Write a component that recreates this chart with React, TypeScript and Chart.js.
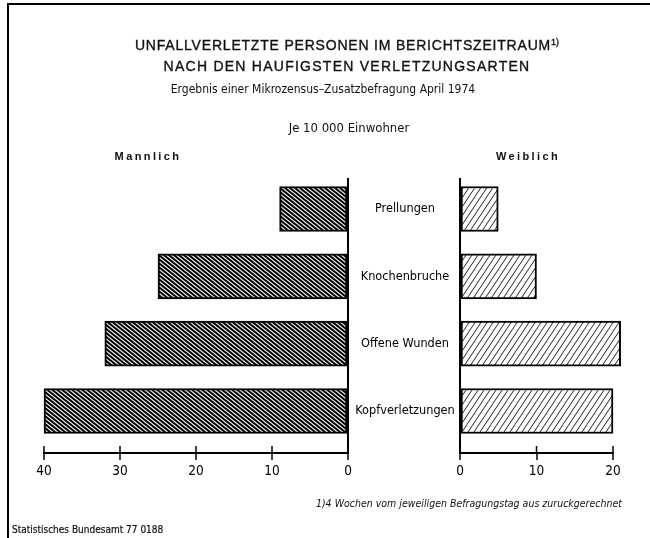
import React, { useEffect, useRef } from "react";
import { Chart, registerables } from "chart.js";

Chart.register(...registerables);

const categories = ["Prellungen", "Knochenbruche", "Offene Wunden", "Kopfverletzungen"];
const maleValues = [9, 25, 32, 40];
const femaleValues = [5, 10, 21, 20];
const maleAxisMax = 40;
const femaleAxisMax = 20;
const tickStep = 10;

const COND = "'Liberation Sans Narrow','DejaVu Sans Condensed','Roboto Condensed','Liberation Sans',sans-serif";
const SANS = "'Liberation Sans',Arial,sans-serif";

function makeHatch(w: number, h: number, dir: "back" | "fwd", lw: number, color: string) {
  const c = document.createElement("canvas");
  c.width = w;
  c.height = h;
  const g = c.getContext("2d")!;
  g.fillStyle = "#fff";
  g.fillRect(0, 0, w, h);
  g.strokeStyle = color;
  g.lineWidth = lw;
  for (let k = -2; k <= 2; k++) {
    g.beginPath();
    if (dir === "back") {
      g.moveTo(k * w - w, -h);
      g.lineTo(k * w + 2 * w, 2 * h);
    } else {
      g.moveTo(k * w - w, 2 * h);
      g.lineTo(k * w + 2 * w, -h);
    }
    g.stroke();
  }
  return g.createPattern(c, "repeat")!;
}

const upTicks = {
  id: "upTicks",
  afterDraw(chart: any) {
    const x = chart.scales.x;
    const ctx = chart.ctx;
    const b = chart.chartArea.bottom;
    ctx.save();
    ctx.strokeStyle = "#000";
    ctx.lineWidth = 1.5;
    x.ticks.forEach((t: any) => {
      const px = x.getPixelForValue(t.value);
      ctx.beginPath();
      ctx.moveTo(px, b - 7);
      ctx.lineTo(px, b);
      ctx.stroke();
    });
    ctx.restore();
  },
};

const catLabels = {
  id: "catLabels",
  afterDraw(chart: any) {
    const y = chart.scales.y;
    const ctx = chart.ctx;
    ctx.save();
    ctx.fillStyle = "#000";
    ctx.font = `12.6px ${COND}`;
    ctx.textAlign = "center";
    ctx.textBaseline = "middle";
    categories.forEach((c, i) => {
      ctx.fillText(c, 405, y.getPixelForValue(i));
    });
    ctx.restore();
  },
};

function baseOptions(reverse: boolean, max: number, padding: any) {
  return {
    indexAxis: "y" as const,
    responsive: false,
    animation: false as const,
    events: [],
    layout: { padding },
    plugins: { legend: { display: false }, tooltip: { enabled: false }, title: { display: false } },
    scales: {
      x: {
        type: "linear" as const,
        reverse,
        min: 0,
        max,
        offset: false,
        afterFit: (s: any) => {
          s.height = 30;
        },
        ticks: {
          stepSize: tickStep,
          color: "#000",
          padding: 3,
          maxRotation: 0,
          font: { size: 13.5, family: COND },
        },
        grid: {
          color: (ctx: any) => (ctx.tick && ctx.tick.value === 0 ? "#000" : "rgba(0,0,0,0)"),
          lineWidth: 2,
          tickColor: "#000",
          tickLength: 7,
          tickWidth: 1.5,
          drawOnChartArea: true,
          offset: false,
        },
        border: { display: true, color: "#000", width: 2 },
      },
      y: {
        type: "linear" as const,
        reverse: true,
        min: -0.46,
        max: 3.624,
        offset: false,
        grid: { offset: false },
        display: false,
      },
    },
  };
}

function Text(props: any) {
  const { x, y, align = "center", size = 12, weight = "normal", italic = false, spacing = 0, family = SANS, stroke = 0, children } = props;
  const tx = align === "center" ? "-50%" : align === "right" ? "-100%" : "0";
  return (
    <div
      style={{
        position: "absolute",
        left: x,
        top: y,
        transform: `translate(${tx}, -50%)`,
        fontFamily: family,
        fontSize: size,
        fontWeight: weight,
        fontStyle: italic ? "italic" : "normal",
        letterSpacing: spacing,
        whiteSpace: "nowrap",
        lineHeight: 1,
        color: "#111",
        WebkitTextStroke: stroke ? `${stroke}px #111` : undefined,
      }}
    >
      {children}
    </div>
  );
}

export default function App() {
  const leftRef = useRef<HTMLCanvasElement>(null);
  const rightRef = useRef<HTMLCanvasElement>(null);

  useEffect(() => {
    const patL = makeHatch(5, 4, "back", 2.1, "#000");
    const patR = makeHatch(6, 9, "fwd", 1, "#222");

    const ds = (vals: number[], pat: any) => ({
      data: vals.map((v, i) => ({ x: v, y: i })) as any,
      backgroundColor: pat,
      borderColor: "#000",
      borderWidth: 2,
      borderSkipped: false,
      barThickness: 45,
      clip: false as any,
    });

    const left = new Chart(leftRef.current!, {
      type: "bar",
      data: { labels: categories, datasets: [ds(maleValues, patL) as any] },
      options: baseOptions(true, maleAxisMax, { left: 44, right: 302, top: 178, bottom: 55 }) as any,
      plugins: [upTicks],
    });

    const right = new Chart(rightRef.current!, {
      type: "bar",
      data: { labels: categories, datasets: [ds(femaleValues, patR) as any] },
      options: baseOptions(false, femaleAxisMax, { left: 460, right: 37, top: 178, bottom: 55 }) as any,
      plugins: [upTicks, catLabels],
    });

    return () => {
      left.destroy();
      right.destroy();
    };
  }, []);

  return (
    <div
      style={{
        position: "fixed",
        left: 0,
        top: 0,
        width: 650,
        height: 538,
        background: "#fff",
        overflow: "hidden",
      }}
    >
      <div
        style={{
          position: "absolute",
          left: 7,
          top: 3,
          width: 660,
          height: 560,
          borderTop: "2px solid #000",
          borderLeft: "2px solid #000",
        }}
      />
      <canvas ref={leftRef} width={650} height={538} style={{ position: "absolute", left: 0, top: 0 }} />
      <canvas ref={rightRef} width={650} height={538} style={{ position: "absolute", left: 0, top: 0 }} />

      <Text x={347} y={45} size={14} spacing={0.8} stroke={0.35}>
        UNFALLVERLETZTE PERSONEN IM BERICHTSZEITRAUM
        <span style={{ fontSize: 9, verticalAlign: "5px", letterSpacing: 0 }}>1)</span>
      </Text>
      <Text x={347} y={66} size={14} spacing={1.25} stroke={0.35}>
        NACH DEN HAUFIGSTEN VERLETZUNGSARTEN
      </Text>
      <Text x={323} y={89} size={12} family={COND}>
        Ergebnis einer Mikrozensus–Zusatzbefragung April 1974
      </Text>
      <Text x={349} y={127} size={13} family={COND}>
        Je 10 000 Einwohner
      </Text>
      <Text x={148} y={156} size={11} weight="bold" spacing={2.4}>
        Mannlich
      </Text>
      <Text x={528} y={156} size={11} weight="bold" spacing={2.4}>
        Weiblich
      </Text>
      <Text x={622} y={503} size={10.5} italic align="right" family={COND}>
        1)4 Wochen vom jeweiligen Befragungstag aus zuruckgerechnet
      </Text>
      <Text x={12} y={530} size={10} align="left" family={COND} stroke={0.2}>
        Statistisches Bundesamt 77 0188
      </Text>
    </div>
  );
}
